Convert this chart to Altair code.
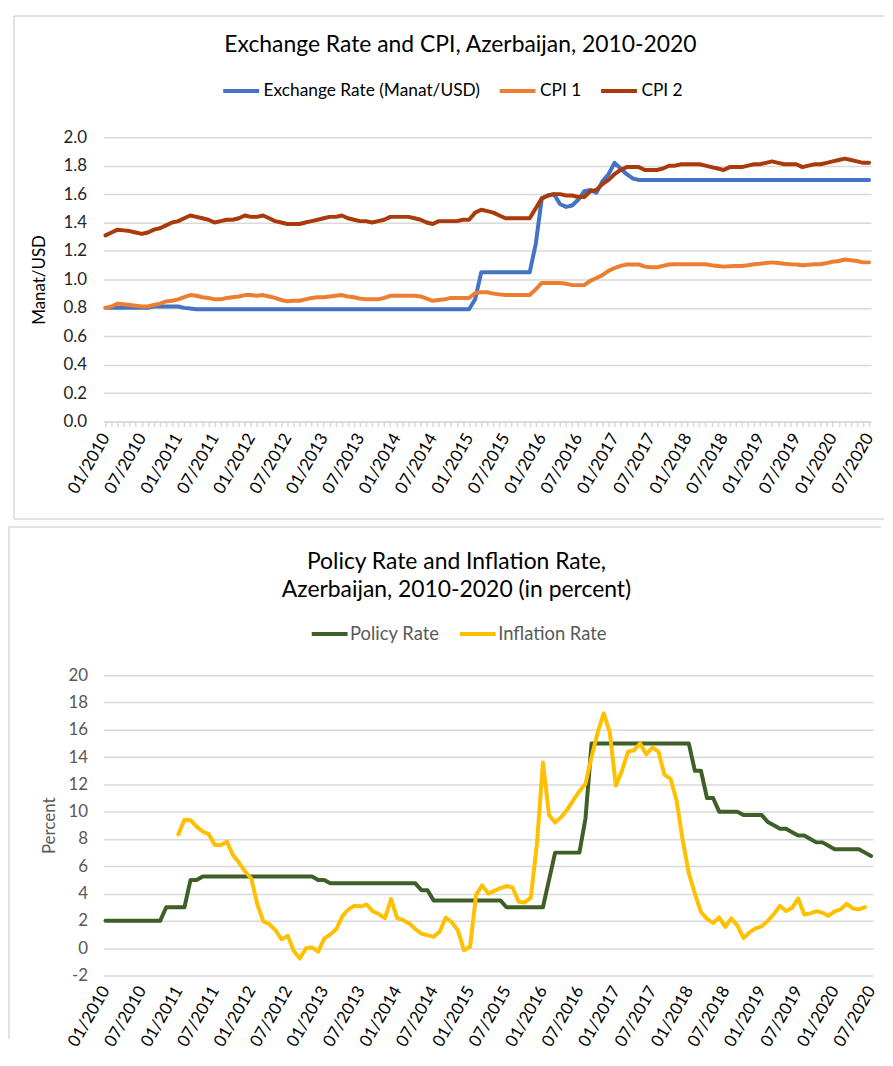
import altair as alt
import pandas as pd

FONT = "Lato"

# ---------------- data ----------------
months = [f"{m:02d}/{y}" for y in range(2010, 2021) for m in range(1, 13)][:127]

exchange_rate = [
    0.80, 0.80, 0.80, 0.80, 0.80, 0.80, 0.80, 0.80, 0.81, 0.81, 0.81, 0.81,
    0.81, 0.80, 0.795, 0.79, 0.79, 0.79, 0.79, 0.79, 0.79, 0.79, 0.79, 0.79,
    0.79, 0.79, 0.79, 0.79, 0.79, 0.79, 0.79, 0.79, 0.79, 0.79, 0.79, 0.79,
    0.79, 0.79, 0.79, 0.79, 0.79, 0.79, 0.79, 0.79, 0.79, 0.79, 0.79, 0.79,
    0.79, 0.79, 0.79, 0.79, 0.79, 0.79, 0.79, 0.79, 0.79, 0.79, 0.79, 0.79,
    0.79, 0.86, 1.05, 1.05, 1.05, 1.05, 1.05, 1.05, 1.05, 1.05, 1.05, 1.25,
    1.57, 1.59, 1.60, 1.53, 1.51, 1.52, 1.56, 1.62, 1.63, 1.61, 1.69, 1.74,
    1.82, 1.78, 1.74, 1.71, 1.70, 1.70, 1.70, 1.70, 1.70, 1.70, 1.70, 1.70,
    1.70, 1.70, 1.70, 1.70, 1.70, 1.70, 1.70, 1.70, 1.70, 1.70, 1.70, 1.70,
    1.70, 1.70, 1.70, 1.70, 1.70, 1.70, 1.70, 1.70, 1.70, 1.70, 1.70, 1.70,
    1.70, 1.70, 1.70, 1.70, 1.70, 1.70, 1.70,
]

cpi1 = [
    0.80, 0.81, 0.83, 0.825, 0.82, 0.815, 0.81, 0.81, 0.82, 0.83, 0.845, 0.85,
    0.86, 0.875, 0.89, 0.885, 0.875, 0.87, 0.86, 0.86, 0.87, 0.875, 0.88, 0.89,
    0.89, 0.885, 0.89, 0.88, 0.87, 0.855, 0.846, 0.85, 0.85, 0.86, 0.87, 0.875,
    0.875, 0.88, 0.885, 0.89, 0.88, 0.875, 0.865, 0.86, 0.86, 0.86, 0.87, 0.885,
    0.885, 0.885, 0.885, 0.885, 0.88, 0.865, 0.85, 0.855, 0.86, 0.87, 0.87, 0.87,
    0.87, 0.905, 0.91, 0.91, 0.90, 0.895, 0.89, 0.89, 0.89, 0.89, 0.89, 0.93,
    0.975, 0.975, 0.975, 0.975, 0.97, 0.96, 0.96, 0.96, 0.99, 1.01, 1.03, 1.06,
    1.08, 1.095, 1.105, 1.105, 1.105, 1.09, 1.086, 1.086, 1.095, 1.105, 1.107, 1.107,
    1.107, 1.107, 1.107, 1.107, 1.10, 1.095, 1.09, 1.093, 1.095, 1.095, 1.10, 1.107,
    1.11, 1.115, 1.12, 1.115, 1.11, 1.107, 1.105, 1.10, 1.103, 1.107, 1.107, 1.115,
    1.125, 1.13, 1.14, 1.135, 1.13, 1.12, 1.12,
]

cpi2 = [
    1.31, 1.33, 1.35, 1.345, 1.34, 1.33, 1.32, 1.33, 1.35, 1.36, 1.38, 1.40,
    1.41, 1.43, 1.45, 1.44, 1.43, 1.42, 1.40, 1.41, 1.42, 1.42, 1.43, 1.45,
    1.44, 1.44, 1.45, 1.43, 1.41, 1.40, 1.39, 1.39, 1.39, 1.40, 1.41, 1.42,
    1.43, 1.44, 1.44, 1.45, 1.43, 1.42, 1.41, 1.41, 1.40, 1.41, 1.42, 1.44,
    1.44, 1.44, 1.44, 1.43, 1.42, 1.40, 1.39, 1.41, 1.41, 1.41, 1.41, 1.42,
    1.42, 1.47, 1.49, 1.48, 1.47, 1.45, 1.43, 1.43, 1.43, 1.43, 1.43, 1.50,
    1.57, 1.59, 1.60, 1.60, 1.59, 1.59, 1.58, 1.58, 1.62, 1.63, 1.67, 1.70,
    1.74, 1.77, 1.79, 1.79, 1.79, 1.77, 1.77, 1.77, 1.78, 1.80, 1.80, 1.81,
    1.81, 1.81, 1.81, 1.80, 1.79, 1.78, 1.77, 1.79, 1.79, 1.79, 1.80, 1.81,
    1.81, 1.82, 1.83, 1.82, 1.81, 1.81, 1.81, 1.79, 1.80, 1.81, 1.81, 1.82,
    1.83, 1.84, 1.85, 1.84, 1.83, 1.82, 1.82,
]

policy_rate = [
    2.0, 2.0, 2.0, 2.0, 2.0, 2.0, 2.0, 2.0, 2.0, 2.0, 3.0, 3.0,
    3.0, 3.0, 5.0, 5.0, 5.25, 5.25, 5.25, 5.25, 5.25, 5.25, 5.25, 5.25,
    5.25, 5.25, 5.25, 5.25, 5.25, 5.25, 5.25, 5.25, 5.25, 5.25, 5.25, 5.0,
    5.0, 4.75, 4.75, 4.75, 4.75, 4.75, 4.75, 4.75, 4.75, 4.75, 4.75, 4.75,
    4.75, 4.75, 4.75, 4.75, 4.25, 4.25, 3.5, 3.5, 3.5, 3.5, 3.5, 3.5,
    3.5, 3.5, 3.5, 3.5, 3.5, 3.5, 3.0, 3.0, 3.0, 3.0, 3.0, 3.0,
    3.0, 5.0, 7.0, 7.0, 7.0, 7.0, 7.0, 9.5, 15.0, 15.0, 15.0, 15.0,
    15.0, 15.0, 15.0, 15.0, 15.0, 15.0, 15.0, 15.0, 15.0, 15.0, 15.0, 15.0,
    15.0, 13.0, 13.0, 11.0, 11.0, 10.0, 10.0, 10.0, 10.0, 9.75, 9.75, 9.75,
    9.75, 9.25, 9.0, 8.75, 8.75, 8.5, 8.25, 8.25, 8.0, 7.75, 7.75, 7.5,
    7.25, 7.25, 7.25, 7.25, 7.25, 7.0, 6.75,
]

inflation = [
    None, None, None, None, None, None, None, None, None, None, None, None,
    8.34, 9.4, 9.38, 8.9, 8.55, 8.35, 7.56, 7.56, 7.8, 6.8, 6.25, 5.6,
    5.1, 3.2, 1.95, 1.75, 1.3, 0.65, 0.9, -0.2, -0.75, 0.0, 0.05, -0.25,
    0.7, 1.0, 1.4, 2.35, 2.85, 3.1, 3.05, 3.2, 2.7, 2.5, 2.2, 3.6,
    2.2, 2.05, 1.8, 1.4, 1.07, 0.95, 0.83, 1.2, 2.25, 1.9, 1.3, -0.15,
    0.1, 3.9, 4.6, 4.0, 4.2, 4.4, 4.55, 4.45, 3.4, 3.35, 3.7, 7.6,
    13.6, 9.75, 9.2, 9.6, 10.15, 10.85, 11.5, 12.05, 14.0, 15.8, 17.2, 15.8,
    11.9, 13.0, 14.4, 14.5, 15.0, 14.2, 14.7, 14.4, 12.7, 12.4, 10.8, 7.9,
    5.5, 4.0, 2.65, 2.15, 1.85, 2.25, 1.55, 2.18, 1.65, 0.75, 1.15, 1.45,
    1.6, 2.0, 2.5, 3.1, 2.72, 2.95, 3.64, 2.47, 2.55, 2.7, 2.6, 2.36,
    2.7, 2.84, 3.25, 2.91, 2.84, 3.0, None,
]

top_series = ["Exchange Rate (Manat/USD)", "CPI 1", "CPI 2"]
top_colors = ["#4472C4", "#ED7D31", "#A93A0C"]
bottom_series = ["Policy Rate", "Inflation Rate"]
bottom_colors = ["#3E5F26", "#FFC000"]

top_title = "Exchange Rate and CPI, Azerbaijan, 2010-2020"
bottom_title = ["Policy Rate and Inflation Rate,", "Azerbaijan, 2010-2020 (in percent)"]

top_y_ticks = [0.0, 0.2, 0.4, 0.6, 0.8, 1.0, 1.2, 1.4, 1.6, 1.8, 2.0]
bottom_y_ticks = [-2, 0, 2, 4, 6, 8, 10, 12, 14, 16, 18, 20]

# ---------------- tables ----------------
top_df = pd.DataFrame({
    "month": months * 3,
    "series": [top_series[0]] * 127 + [top_series[1]] * 127 + [top_series[2]] * 127,
    "value": exchange_rate + cpi1 + cpi2,
})
bottom_df = pd.DataFrame({
    "month": months * 2,
    "group": [bottom_series[0]] * 127 + [bottom_series[1]] * 127,
    "value": policy_rate + inflation,
})
one = pd.DataFrame({"k": [0]})

label_expr = ("slice(datum.value,0,2) == '01' || slice(datum.value,0,2) == '07' "
              "? datum.value : ''")
GRID = "#d9d9d9"


def frame(left, top, right, bottom, with_bottom=True):
    layers = [
        alt.Chart(one).mark_rule(color=GRID, strokeWidth=1.5).encode(
            x=alt.value(left), x2=alt.value(right), y=alt.value(top)),
        alt.Chart(one).mark_rule(color=GRID, strokeWidth=1.5).encode(
            x=alt.value(left), y=alt.value(top), y2=alt.value(bottom)),
    ]
    if with_bottom:
        layers.append(alt.Chart(one).mark_rule(color=GRID, strokeWidth=1.5).encode(
            x=alt.value(left), x2=alt.value(right), y=alt.value(bottom)))
    return layers


# ---------------- top panel ----------------
TW, TH = 772, 286
top_lines = alt.Chart(top_df).mark_line(
    strokeWidth=4, strokeCap="round", strokeJoin="round"
).encode(
    x=alt.X("month:O", sort=months,
            scale=alt.Scale(type="point", padding=0.33),
            axis=alt.Axis(title=None, labelExpr=label_expr, labelAngle=300,
                          labelAlign="right", labelBaseline="middle",
                          labelFontSize=17, labelColor="#000000", labelPadding=8,
                          labelOverlap=False, tickColor=GRID, tickSize=5, tickWidth=1.5,
                          domainColor=GRID, domainWidth=1.5, grid=False)),
    y=alt.Y("value:Q", scale=alt.Scale(domain=[0, 2], nice=False, zero=False),
            axis=alt.Axis(values=top_y_ticks, format=".1f", title="Manat/USD",
                          titleFontSize=17, titleFontWeight="normal", titleColor="#000000",
                          titlePadding=15, labelFontSize=17, labelColor="#262626",
                          labelPadding=17, domain=False, ticks=False, grid=True,
                          gridColor=GRID, gridWidth=1.5)),
    color=alt.Color("series:N", sort=top_series,
                    scale=alt.Scale(domain=top_series, range=top_colors),
                    legend=alt.Legend(title=None, orient="none", legendX=118, legendY=-67,
                                      direction="horizontal", symbolType="stroke",
                                      symbolSize=1300, symbolStrokeWidth=4,
                                      labelFontSize=17.4, labelColor="#000000",
                                      labelLimit=400, columnPadding=11, labelOffset=2)),
)
top_title_mark = alt.Chart(one).mark_text(
    font=FONT, fontSize=23, color="#000000", align="center", baseline="middle"
).encode(x=alt.value(359), y=alt.value(-93), text=alt.value(top_title))

top_chart = alt.layer(
    *frame(-90, -122, 785, 384), top_title_mark, top_lines
).properties(width=TW, height=TH)

# ---------------- bottom panel ----------------
BW, BH = 774, 302
bottom_lines = alt.Chart(bottom_df).mark_line(
    strokeWidth=4, strokeCap="round", strokeJoin="round"
).encode(
    x=alt.X("month:O", sort=months,
            scale=alt.Scale(type="point", padding=0.33),
            axis=alt.Axis(title=None, labelExpr=label_expr, labelAngle=300,
                          labelAlign="right", labelBaseline="middle",
                          labelFontSize=17, labelColor="#000000", labelPadding=12,
                          labelOverlap=False, ticks=False, domain=False, grid=False)),
    y=alt.Y("value:Q", scale=alt.Scale(domain=[-2, 20], nice=False, zero=False),
            axis=alt.Axis(values=bottom_y_ticks, labelExpr="toString(datum.value)",
                          title="Percent",
                          titleFontSize=17, titleFontWeight="normal", titleColor="#595959",
                          titlePadding=10, labelFontSize=17, labelColor="#595959",
                          labelPadding=16, domain=False, ticks=False, grid=True,
                          gridColor=GRID, gridWidth=1.5)),
    stroke=alt.Stroke("group:N", sort=bottom_series,
                      scale=alt.Scale(domain=bottom_series, range=bottom_colors),
                      legend=alt.Legend(title=None, orient="none", legendX=207, legendY=-62,
                                        direction="horizontal", symbolType="stroke",
                                        symbolSize=1300, symbolStrokeWidth=4,
                                        labelFontSize=18.5, labelColor="#595959",
                                        labelLimit=400, columnPadding=12, labelOffset=0)),
)
bottom_title_mark = alt.Chart(one).mark_text(
    font=FONT, fontSize=23, color="#000000", align="center", baseline="middle",
    lineHeight=28
).encode(x=alt.value(355), y=alt.value(-114), text=alt.value(bottom_title))

bottom_chart = alt.layer(
    *frame(-95, -149, 782, 366, with_bottom=False), bottom_title_mark, bottom_lines
).properties(width=BW, height=BH)

chart = alt.concat(
    top_chart, bottom_chart, columns=1, spacing=6, align="none"
).resolve_scale(
    x="independent", y="independent", color="independent", stroke="independent"
).resolve_legend(
    color="independent", stroke="independent"
).properties(
    padding={"left": 0, "top": 4, "right": 0, "bottom": 0}
).configure_view(
    strokeWidth=0
).configure_axis(
    labelFont=FONT, titleFont=FONT
).configure_legend(
    labelFont=FONT
).configure_text(
    font=FONT
)

chart.save("out.html", embed_options={"renderer": "svg", "actions": False})
